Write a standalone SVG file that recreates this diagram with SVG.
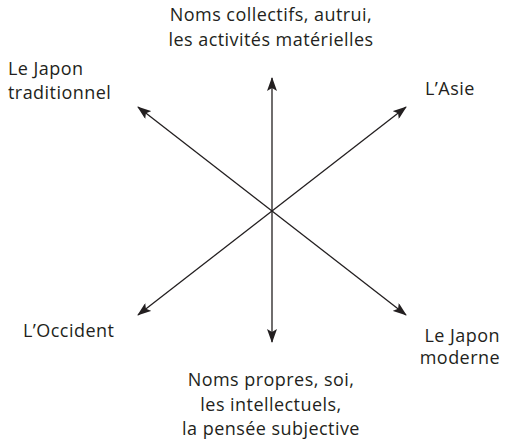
<svg xmlns="http://www.w3.org/2000/svg" width="508" height="445" viewBox="0 0 508 445">
<defs>
<style>
text{font-family:"Open Sans","Noto Sans","Liberation Sans",sans-serif;font-size:18px;letter-spacing:0.45px;fill:#231f20}
.c{text-anchor:middle}
.r{text-anchor:end}
.ln{stroke:#231f20;stroke-width:1.3;fill:none;marker-start:url(#ah);marker-end:url(#ah)}
</style>
<marker id="ah" viewBox="0 0 14 10" refX="13" refY="5" markerWidth="14" markerHeight="10" markerUnits="userSpaceOnUse" orient="auto-start-reverse">
<path d="M0,0 L14,5 L0,10 L3,5 Z" fill="#231f20"/>
</marker>
</defs>
<rect width="508" height="445" fill="#fff"/>
<g id="connectors">
<line class="ln" x1="272" y1="342" x2="272" y2="78"/>
<line class="ln" x1="406" y1="315" x2="138" y2="107"/>
<line class="ln" x1="138" y1="315" x2="406" y2="107"/>
</g>
<g id="top"><text class="c" x="271" y="21">Noms collectifs, autrui,</text><text class="c" x="271" y="45.5">les activités matérielles</text></g>
<g id="japon-traditionnel"><text x="8" y="75">Le Japon</text><text x="8" y="99">traditionnel</text></g>
<g id="asie"><text x="425" y="95">L’Asie</text></g>
<g id="occident"><text x="23" y="337">L’Occident</text></g>
<g id="japon-moderne"><text class="r" x="500" y="342">Le Japon</text><text class="r" x="500" y="364">moderne</text></g>
<g id="bottom"><text class="c" x="271" y="386">Noms propres, soi,</text><text class="c" x="271" y="410.5">les intellectuels,</text><text class="c" x="271" y="435">la pensée subjective</text></g>
</svg>
